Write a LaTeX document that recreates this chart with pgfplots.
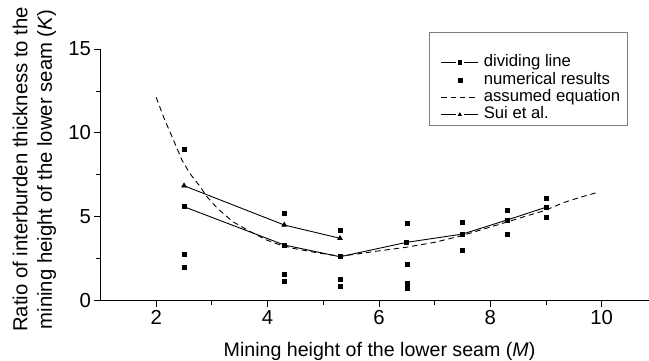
\documentclass[border=0pt]{standalone}
\usepackage{pgfplots}
\pgfplotsset{compat=1.18}
\usepackage{fontspec}
\setmainfont{Liberation Sans}
\begin{document}
\begin{tikzpicture}
\begin{axis}[
  scale only axis,
  width=548.6pt, height=251.7pt,
  xmin=1, xmax=10.85, ymin=0, ymax=15,
  axis x line=bottom, axis y line=left,
  axis line style={-, line width=0.9pt},
  xtick={2,4,6,8,10}, ytick={0,5,10,15},
  minor x tick num=1, minor y tick num=1,
  tick align=outside,
  major tick length=6pt, minor tick length=4pt,
  tick style={line width=0.9pt, black},
  /pgf/number format/assume math mode=true,
  ticklabel style={font=\fontsize{20.3}{24}\selectfont},
  clip=false,
  xlabel={Mining height of the lower seam (\textit{M})},
  xlabel style={at={(axis description cs:0.5086,-0.2225)}, anchor=base, font=\fontsize{19.6}{23}\selectfont},
  ylabel={Ratio of interburden thickness to the\\mining height of the lower seam (\textit{K})},
  ylabel style={at={(axis description cs:-0.1205,0.522)}, anchor=center, rotate=0, align=center, font=\fontsize{20.3}{24.3}\selectfont},
  legend style={draw=none, fill=none, inner sep=0pt,
    at={(axis description cs:0.6201,0.982)}, anchor=north west,
    font=\fontsize{16.7}{20}\selectfont,
    nodes={inner sep=1pt, text height=12pt, text depth=3.4pt},
    /tikz/every odd column/.append style={column sep=4pt}},
  legend cell align=left,
  legend image code/.code={\draw[mark repeat=2,mark phase=2,#1] plot coordinates {(0cm,0cm) (0.65cm,0cm) (1.3cm,0cm)};},
  gaplegend/.style={legend image code/.code={
    \draw[##1, mark=none] (0cm,0cm) -- (0.5cm,0cm);
    \draw[##1, mark=none] (0.8cm,0cm) -- (1.3cm,0cm);
    \draw[##1, mark size=1.6pt] plot coordinates {(0.65cm,0cm)};}},
]
\addplot[black, line width=0.9pt, mark=square*, mark size=2pt, mark options={solid}, gaplegend] coordinates {
(2.5,5.6) (4.3,3.32) (5.3,2.62) (6.5,3.48) (7.5,3.97) (8.3,4.81) (9.0,5.57)};
\addlegendentry{dividing line}
\addplot[black, only marks, mark=square*, mark size=2pt] coordinates {
(2.5,9.02) (2.5,2.78) (2.5,2.0)
(4.3,5.2) (4.3,1.59) (4.3,1.19)
(5.3,4.21) (5.3,1.27) (5.3,0.89)
(6.5,4.61) (6.5,2.2) (6.5,1.07) (6.5,0.76)
(7.5,4.69) (7.5,3.0)
(8.3,5.42) (8.3,3.97)
(9.0,6.08) (9.0,5.0)};
\addlegendentry{numerical results}
\addplot[black, line width=0.9pt, dash pattern=on 5.5pt off 3.8pt, no marks] coordinates {
(2.0,12.12) (2.15,10.8) (2.31,9.58) (2.46,8.4) (2.6,7.6) (2.79,6.8) (2.91,6.2) (3.1,5.5)
(3.38,4.7) (3.7,4.1) (3.98,3.62) (4.2,3.35) (4.46,3.12) (4.9,2.85) (5.3,2.65) (5.6,2.78)
(6.02,2.98) (6.48,3.18) (7.0,3.48) (7.47,3.86) (7.82,4.21) (8.27,4.66) (8.6,5.0)
(8.98,5.38) (9.31,5.84) (9.6,6.15) (9.91,6.44)};
\addlegendentry{assumed equation}
\addplot[black, line width=0.9pt, mark=triangle*, mark size=2.5pt, mark options={solid}, gaplegend] coordinates {
(2.5,6.85) (4.3,4.51) (5.3,3.72)};
\addlegendentry{Sui et al.}
\draw[gray, line width=0.8pt] (axis description cs:0.5994,1.0664) rectangle (axis description cs:0.9603,0.6953);
\end{axis}
\pgfresetboundingbox
\path (-100.5pt,-59.3pt) rectangle (548.5pt,300.7pt);
\end{tikzpicture}
\end{document}
